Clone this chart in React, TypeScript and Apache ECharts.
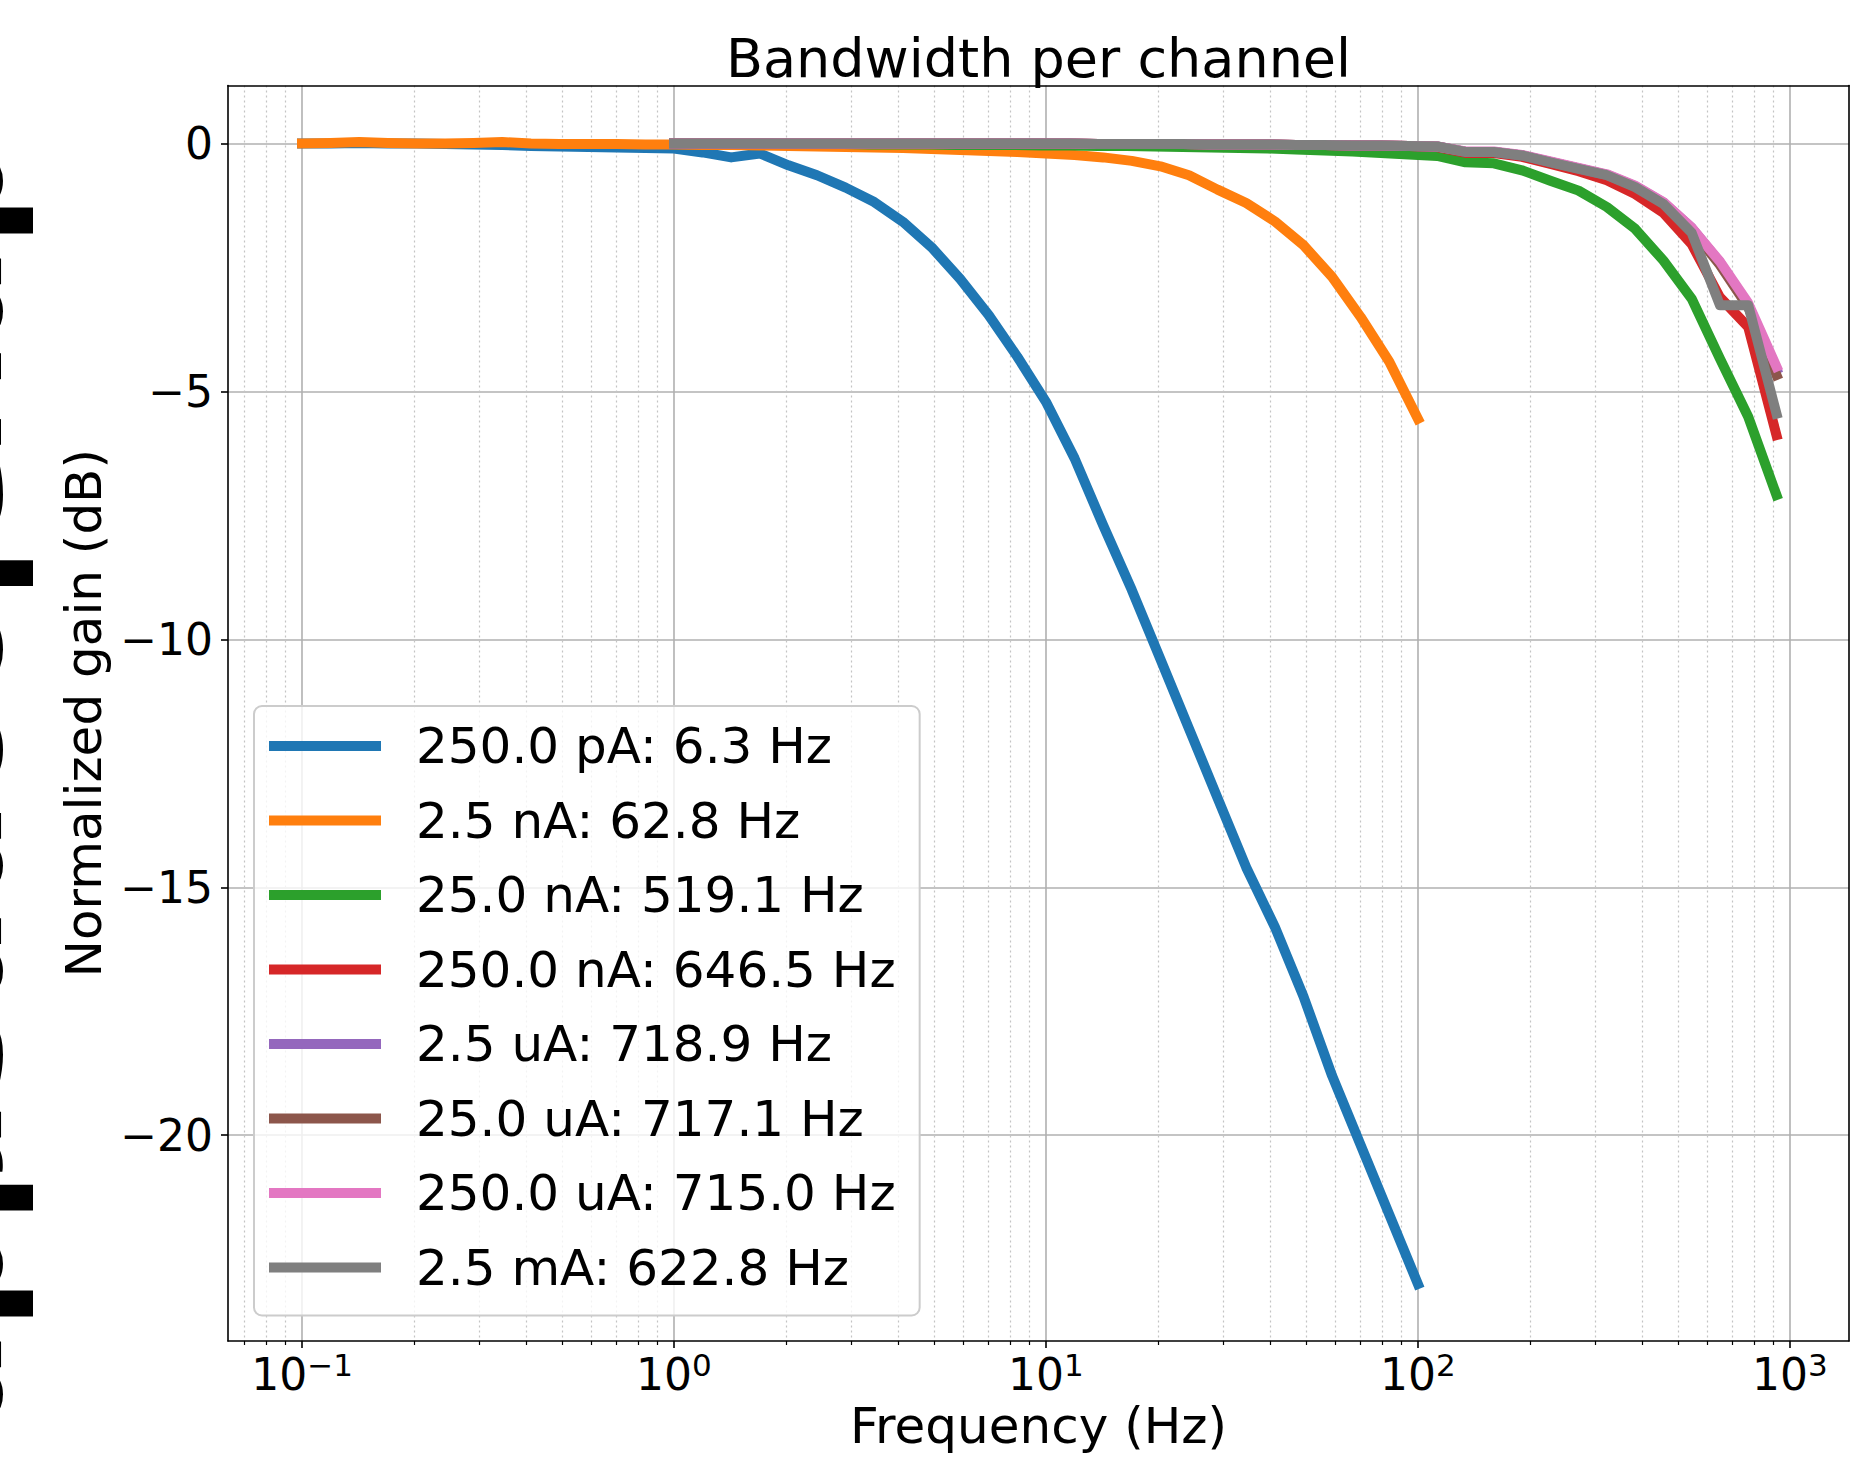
import React, { useEffect, useRef } from "react";
import * as echarts from "echarts";

// Frequency grids (Hz)
const FREQ_LOW = [
  0.1, 0.1194, 0.1425, 0.1701, 0.2031, 0.2424, 0.2894, 0.3455, 0.4125, 0.4924,
  0.5878, 0.7017, 0.8377, 1.0, 1.194, 1.425, 1.701, 2.031, 2.424, 2.894,
  3.455, 4.125, 4.924, 5.878, 7.017, 8.377, 10.0, 11.94, 14.25, 17.01,
  20.31, 24.24, 28.94, 34.55, 41.25, 49.24, 58.78, 70.17, 83.77, 100.0,
];
const FREQ_HIGH = [
  1.0, 1.191, 1.419, 1.69, 2.014, 2.399, 2.858, 3.404, 4.055, 4.831,
  5.754, 6.855, 8.166, 9.727, 11.59, 13.8, 16.44, 19.59, 23.33, 27.8,
  33.11, 39.45, 46.99, 55.98, 66.68, 79.43, 94.62, 112.7, 134.3, 160.0,
  190.5, 227.0, 270.4, 322.1, 383.7, 457.1, 544.5, 648.6, 772.7, 920.4,
];

// Normalized gain (dB)
const GAIN_250PA = [
  0, 0, 0.01, 0, 0, -0.01, -0.02, -0.03, -0.05, -0.06,
  -0.07, -0.08, -0.09, -0.1, -0.18, -0.28, -0.2, -0.44, -0.64, -0.89,
  -1.18, -1.58, -2.09, -2.73, -3.46, -4.3, -5.21, -6.35, -7.7, -9.0,
  -10.4, -11.8, -13.2, -14.6, -15.8, -17.2, -18.8, -20.2, -21.6, -23.0,
];
const GAIN_2_5NA = [
  0, 0.01, 0.03, 0.01, 0, 0, 0.01, 0.03, 0, -0.01,
  -0.01, -0.01, -0.02, -0.02, -0.03, -0.03, -0.04, -0.05, -0.06, -0.07,
  -0.08, -0.09, -0.11, -0.13, -0.15, -0.17, -0.2, -0.23, -0.28, -0.35,
  -0.46, -0.64, -0.93, -1.2, -1.57, -2.05, -2.69, -3.5, -4.4, -5.55,
];
const GAIN_25NA = [
  0, 0, 0, 0, -0.01, -0.01, -0.01, -0.02, -0.02, -0.02,
  -0.03, -0.03, -0.03, -0.04, -0.04, -0.05, -0.05, -0.06, -0.07, -0.08,
  -0.09, -0.1, -0.12, -0.14, -0.16, -0.19, -0.22, -0.25, -0.38, -0.4,
  -0.54, -0.75, -0.95, -1.28, -1.72, -2.36, -3.13, -4.34, -5.51, -7.09,
];
const GAIN_250NA = [
  0, 0, 0, 0, 0, 0, 0, 0, 0, 0,
  0, 0, 0, 0, 0, -0.01, -0.01, -0.01, -0.01, -0.02,
  -0.02, -0.02, -0.03, -0.03, -0.04, -0.04, -0.05, -0.07, -0.19, -0.19,
  -0.27, -0.41, -0.56, -0.74, -1.02, -1.4, -2.03, -3.1, -3.7, -5.88,
];
const GAIN_2_5UA = [
  0, 0, 0, 0, 0, 0, 0, 0, 0, 0,
  0, 0, 0, 0, 0, -0.01, -0.01, -0.01, -0.01, -0.02,
  -0.02, -0.02, -0.03, -0.03, -0.04, -0.04, -0.05, -0.06, -0.17, -0.17,
  -0.24, -0.37, -0.5, -0.63, -0.86, -1.19, -1.7, -2.4, -3.25, -4.55,
];
const GAIN_25UA = [
  0, 0, 0, 0, 0, 0, 0, 0, 0, 0,
  0, 0, 0, 0, 0, -0.01, -0.01, -0.01, -0.01, -0.02,
  -0.02, -0.02, -0.03, -0.03, -0.04, -0.04, -0.05, -0.06, -0.17, -0.17,
  -0.24, -0.37, -0.5, -0.63, -0.87, -1.2, -1.73, -2.45, -3.3, -4.67,
];
const GAIN_250UA = [
  0, 0, 0, 0, 0, 0, 0, 0, 0, 0,
  0, 0, 0, 0, 0, -0.01, -0.01, -0.01, -0.01, -0.02,
  -0.02, -0.02, -0.03, -0.03, -0.04, -0.04, -0.05, -0.06, -0.16, -0.16,
  -0.23, -0.36, -0.49, -0.62, -0.85, -1.18, -1.7, -2.38, -3.22, -4.5,
];
const GAIN_2_5MA = [
  0, 0, 0, 0, 0, 0, 0, 0, 0, 0,
  0, 0, 0, 0, 0, -0.01, -0.01, -0.01, -0.01, -0.02,
  -0.02, -0.02, -0.03, -0.03, -0.04, -0.04, -0.05, -0.06, -0.17, -0.17,
  -0.24, -0.38, -0.51, -0.64, -0.88, -1.22, -1.8, -3.26, -3.26, -5.45,
];

const SERIES_NAMES = [
  "250.0 pA: 6.3 Hz",
  "2.5 nA: 62.8 Hz",
  "25.0 nA: 519.1 Hz",
  "250.0 nA: 646.5 Hz",
  "2.5 uA: 718.9 Hz",
  "25.0 uA: 717.1 Hz",
  "250.0 uA: 715.0 Hz",
  "2.5 mA: 622.8 Hz",
];
const SERIES_FREQS = [FREQ_LOW, FREQ_LOW, FREQ_HIGH, FREQ_HIGH, FREQ_HIGH, FREQ_HIGH, FREQ_HIGH, FREQ_HIGH];
const SERIES_GAINS = [
  GAIN_250PA, GAIN_2_5NA, GAIN_25NA, GAIN_250NA,
  GAIN_2_5UA, GAIN_25UA, GAIN_250UA, GAIN_2_5MA,
];
const COLORS = ["#1f77b4", "#ff7f0e", "#2ca02c", "#d62728", "#9467bd", "#8c564b", "#e377c2", "#7f7f7f"];

// Axis ticks
const X_DECADES = [-1, 0, 1, 2, 3]; // exponents of 10
const X_MINOR_FREQS = [
  0.07, 0.08, 0.09,
  0.2, 0.3, 0.4, 0.5, 0.6, 0.7, 0.8, 0.9,
  2, 3, 4, 5, 6, 7, 8, 9,
  20, 30, 40, 50, 60, 70, 80, 90,
  200, 300, 400, 500, 600, 700, 800, 900,
];
const Y_TICKS = [0, -5, -10, -15, -20];

const X_MIN = -1.199;
const X_MAX = 3.159;
const Y_MIN = -24.15;
const Y_MAX = 1.17;

const FONT = "DejaVu Sans";

export default function App() {
  const ref = useRef<HTMLDivElement>(null);

  useEffect(() => {
    if (!ref.current) return;
    const chart = echarts.init(ref.current, null, { renderer: "svg" });
    const minorLogs = X_MINOR_FREQS.map((f) => Math.log10(f));
    const minus = (v: number) => (v < 0 ? "\u2212" + String(-v) : String(v));

    const series = SERIES_NAMES.map((name, i) => ({
      type: "line",
      name,
      xAxisIndex: 0,
      yAxisIndex: 0,
      data: SERIES_FREQS[i].map((f, j) => [Math.log10(f), SERIES_GAINS[i][j]]),
      showSymbol: false,
      symbol: "none",
      silent: true,
      z: 2 + i,
      itemStyle: { color: COLORS[i] },
      lineStyle: { width: 10, color: COLORS[i], cap: "square", join: "round" },
      emphasis: { disabled: true },
    }));

    const option: any = {
      animation: false,
      backgroundColor: "#ffffff",
      grid: {
        left: 228,
        right: 2,
        top: 85.5,
        bottom: 116,
        containLabel: false,
        outerBoundsMode: "none",
      },
      legend: {
        orient: "vertical",
        left: 254,
        top: 706,
        icon: "rect",
        itemWidth: 112,
        itemHeight: 10,
        itemGap: 18.5,
        selectedMode: false,
        padding: [12, 24, 20, 15],
        backgroundColor: "rgba(255,255,255,0.8)",
        borderColor: "#cccccc",
        borderWidth: 2,
        borderRadius: 8,
        textStyle: {
          fontSize: 50,
          fontFamily: FONT,
          color: "#000",
          lineHeight: 56,
          padding: [0, 0, 0, 30],
        },
        data: SERIES_NAMES,
      },
      xAxis: [
        {
          type: "value",
          position: "bottom",
          min: X_MIN,
          max: X_MAX,
          axisLine: { show: true, onZero: false, lineStyle: { color: "#000", width: 1.6 } },
          axisTick: { show: true, customValues: X_DECADES, length: 7, lineStyle: { color: "#000", width: 1.6 } },
          axisLabel: {
            customValues: X_DECADES,
            margin: 8,
            formatter: (v: number) => `{a|10}{b|${minus(Math.round(v))}}`,
            rich: {
              a: { fontSize: 44, fontFamily: FONT, color: "#000", lineHeight: 50 },
              b: { fontSize: 31, fontFamily: FONT, color: "#000", lineHeight: 28, verticalAlign: "top" },
            },
          },
          splitLine: { show: true, lineStyle: { color: "#b0b0b0", width: 1.6 } },
          name: "Frequency (Hz)",
          nameLocation: "middle",
          nameGap: 60,
          nameTextStyle: { fontSize: 50, fontFamily: FONT, color: "#000" },
        },
        {
          type: "value",
          position: "bottom",
          min: X_MIN,
          max: X_MAX,
          axisLine: { show: false, onZero: false },
          axisTick: { show: true, customValues: minorLogs, length: 4, lineStyle: { color: "#000", width: 1.2 } },
          axisLabel: { show: false, customValues: minorLogs },
          splitLine: { show: true, lineStyle: { color: "#c4c4c4", width: 1.2, type: [2, 3] } },
        },
        {
          type: "value",
          position: "top",
          min: X_MIN,
          max: X_MAX,
          axisLine: { show: true, onZero: false, lineStyle: { color: "#000", width: 1.6 } },
          axisTick: { show: false },
          axisLabel: { show: false },
          splitLine: { show: false },
        },
      ],
      yAxis: [
        {
          type: "value",
          position: "left",
          min: Y_MIN,
          max: Y_MAX,
          axisLine: { show: true, onZero: false, lineStyle: { color: "#000", width: 1.6 } },
          axisTick: { show: true, customValues: Y_TICKS, length: 7, lineStyle: { color: "#000", width: 1.6 } },
          axisLabel: {
            customValues: Y_TICKS,
            margin: 15,
            formatter: (v: number) => minus(Math.round(v)),
            fontSize: 44,
            fontFamily: FONT,
            color: "#000",
          },
          splitLine: { show: true, lineStyle: { color: "#b0b0b0", width: 1.6 } },
          name: "Normalized gain (dB)",
          nameLocation: "middle",
          nameRotate: 90,
          nameGap: 116,
          nameTextStyle: { fontSize: 50, fontFamily: FONT, color: "#000" },
        },
        {
          type: "value",
          position: "right",
          min: Y_MIN,
          max: Y_MAX,
          axisLine: { show: true, onZero: false, lineStyle: { color: "#000", width: 1.6 } },
          axisTick: { show: false },
          axisLabel: { show: false },
          splitLine: { show: false },
        },
      ],
      graphic: [
        {
          type: "text",
          x: 1038.5,
          y: 58.7,
          silent: true,
          style: {
            text: "Bandwidth per channel",
            fontSize: 54,
            fontFamily: FONT,
            fill: "#000",
            textAlign: "center",
            textVerticalAlign: "middle",
          },
        },
        {
          type: "text",
          x: 45,
          y: 140,
          rotation: -Math.PI / 2,
          silent: true,
          style: {
            text: "dnyaleonnsrldn",
            fontSize: 148,
            fontWeight: "bold",
            fontFamily: FONT,
            fill: "#000",
            textAlign: "left",
            textVerticalAlign: "top",
          },
        },
      ],
      series,
    };

    chart.setOption(option);
    return () => chart.dispose();
  }, []);

  return (
    <div
      ref={ref}
      style={{ position: "fixed", left: 0, top: 0, width: 1851, height: 1457, background: "#fff" }}
    />
  );
}
